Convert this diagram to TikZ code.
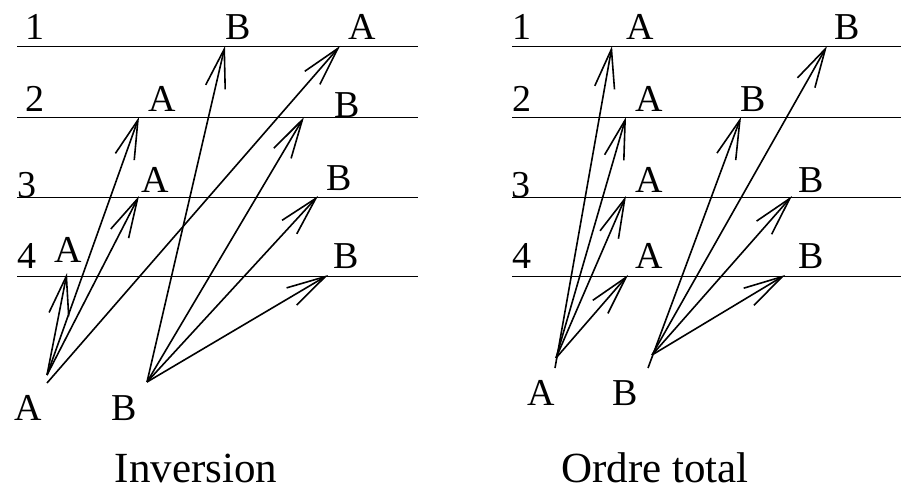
\documentclass[tikz,border=0pt]{standalone}
\usepackage{fontspec}
\setmainfont{Liberation Serif}
\usetikzlibrary{arrows.meta}

\begin{document}
\begin{tikzpicture}[x=1pt, y=-1pt,
  rule/.style   = {line width=1pt},
  arr/.style    = {-{Straight Barb[length=39pt,width=20pt]}, line width=1.6pt},
  lbl/.style    = {anchor=base, inner sep=0pt, font=\fontsize{38}{40}\selectfont},
  captxt/.style = {anchor=base, inner sep=0pt, font=\fontsize{43}{46}\selectfont}
]
\useasboundingbox (0,0) rectangle (901,489);

% horizontal levels
\foreach \y in {47,118,197,276} {
  \draw[rule] (17,\y) -- (418,\y);
  \draw[rule] (512,\y) -- (901,\y);
}

% level numbers
\node[lbl] (ln1) at (35,40)  {1};
\node[lbl] (ln2) at (35,112) {2};
\node[lbl] (ln3) at (27,197) {3};
\node[lbl] (ln4) at (27,268) {4};
\node[lbl] (rn1) at (522,40)  {1};
\node[lbl] (rn2) at (522,112) {2};
\node[lbl] (rn3) at (521,197) {3};
\node[lbl] (rn4) at (522,268) {4};

% --- Inversion ---
\coordinate (lsA)  at (47,375);
\coordinate (lsAb) at (47,383);
\coordinate (lsB)  at (147,382);
\coordinate (lA1) at (340,46);
\coordinate (lA2) at (139,117);
\coordinate (lA3) at (139,196);
\coordinate (lA4) at (67,273);
\coordinate (lB1) at (225,46);
\coordinate (lB2) at (304,117);
\coordinate (lB3) at (318,196);
\coordinate (lB4) at (328,275);

\node[lbl] (lsAtxt) at (28,420)  {A};
\node[lbl] (lsBtxt) at (124,420) {B};
\node[lbl] (lA1txt) at (362,40)  {A};
\node[lbl] (lA2txt) at (162,112) {A};
\node[lbl] (lA3txt) at (155,192) {A};
\node[lbl] (lA4txt) at (68,262)  {A};
\node[lbl] (lB1txt) at (238,40)  {B};
\node[lbl] (lB2txt) at (347,118) {B};
\node[lbl] (lB3txt) at (339,190) {B};
\node[lbl] (lB4txt) at (346,268) {B};

\draw[arr] (lsAb) -- (lA1);
\foreach \t in {lA2, lA3, lA4}
  \draw[arr] (lsA) -- (\t);
\foreach \t in {lB1, lB2, lB3, lB4}
  \draw[arr] (lsB) -- (\t);

\node[captxt] (linv) at (196,482) {Inversion};

% --- Ordre total ---
\coordinate (rsA)  at (556,358);
\coordinate (rsAb) at (555,368);
\coordinate (rsB)  at (652,355);
\coordinate (rsBb) at (648,368);
\coordinate (rA1) at (612,46);
\coordinate (rA2) at (626,117);
\coordinate (rA3) at (626,196);
\coordinate (rA4) at (628,275);
\coordinate (rB1) at (827,46);
\coordinate (rB2) at (741,117);
\coordinate (rB3) at (792,196);
\coordinate (rB4) at (785,275);

\node[lbl] (rsAtxt) at (541,405) {A};
\node[lbl] (rsBtxt) at (625,405) {B};
\node[lbl] (rA1txt) at (640,40)  {A};
\node[lbl] (rA2txt) at (649,112) {A};
\node[lbl] (rA3txt) at (649,192) {A};
\node[lbl] (rA4txt) at (649,268) {A};
\node[lbl] (rB1txt) at (847,40)  {B};
\node[lbl] (rB2txt) at (753,112) {B};
\node[lbl] (rB3txt) at (811,192) {B};
\node[lbl] (rB4txt) at (811,268) {B};

\draw[arr] (rsAb) -- (rA1);
\foreach \t in {rA2, rA3, rA4}
  \draw[arr] (rsA) -- (\t);
\draw[arr] (rsBb) -- (rB2);
\foreach \t in {rB1, rB3, rB4}
  \draw[arr] (rsB) -- (\t);

\node[captxt] (rord) at (655,482) {Ordre total};
\end{tikzpicture}
\end{document}
